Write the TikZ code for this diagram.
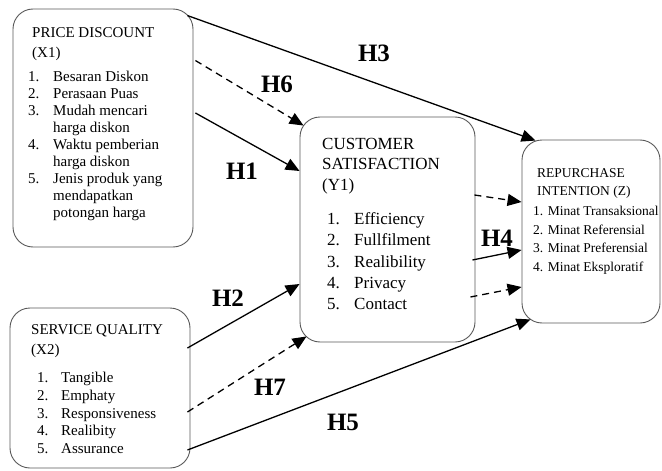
\documentclass[tikz,border=0pt]{standalone}
\usepackage{fontspec}
\setmainfont{Liberation Serif}
\usetikzlibrary{arrows.meta,calc}
\begin{document}
\begin{tikzpicture}[x=1pt,y=-1pt,
  box/.style={draw=black!65, line width=0.9pt, rounded corners=20pt, inner sep=0pt},
  txt/.style={anchor=base west, inner sep=0pt, align=left},
  conn/.style={line width=1.3pt, -{Triangle[length=14pt,width=12pt]}},
  dconn/.style={conn, dash pattern=on 7pt off 5pt},
  hlab/.style={font=\fontsize{25}{25}\bfseries\selectfont, inner sep=0pt}]
\useasboundingbox (0,0) rectangle (662,471);
% boxes
\node[box, minimum width=180pt, minimum height=238pt] (x1) at (103,128) {};
\node[box, minimum width=180pt, minimum height=160pt] (x2) at (100,388) {};
\node[box, minimum width=175pt, minimum height=225pt] (y1) at (387.5,229.5) {};
\node[box, minimum width=138pt, minimum height=183pt] (z) at (591,231.5) {};
% texts
\node[txt, font=\fontsize{15}{17.1}\selectfont] (x1t) at (28,37) {%
\begin{tabular}[t]{@{}p{25pt}@{}l@{}}
\multicolumn{2}{@{}l@{}}{\hspace{4pt}PRICE DISCOUNT}\\[3pt]
\multicolumn{2}{@{}l@{}}{\hspace{4pt}(X1)}\\[7pt]
1. & Besaran Diskon\\
2. & Perasaan Puas\\
3. & Mudah mencari\\
   & harga diskon\\
4. & Waktu pemberian\\
   & harga diskon\\
5. & Jenis produk yang\\
   & mendapatkan\\
   & potongan harga
\end{tabular}};
\node[txt, font=\fontsize{15}{17.75}\selectfont] (x2t) at (37,334) {%
\begin{tabular}[t]{@{}p{24pt}@{}l@{}}
\multicolumn{2}{@{}l@{}}{\hspace{-6pt}SERVICE QUALITY}\\[3pt]
\multicolumn{2}{@{}l@{}}{\hspace{-6pt}(X2)}\\[10pt]
1. & Tangible\\
2. & Emphaty\\
3. & Responsiveness\\
4. & Realibity\\
5. & Assurance
\end{tabular}};
\node[txt, font=\fontsize{17}{21.5}\selectfont] (y1t) at (327,149) {%
\begin{tabular}[t]{@{}p{27pt}@{}l@{}}
\multicolumn{2}{@{}l@{}}{\hspace{-5pt}CUSTOMER}\\[-1pt]
\multicolumn{2}{@{}l@{}}{\hspace{-5pt}SATISFACTION}\\[-1pt]
\multicolumn{2}{@{}l@{}}{\hspace{-5pt}(Y1)}\\[12.5pt]
1. & Efficiency\\
2. & Fullfilment\\
3. & Realibility\\
4. & Privacy\\
5. & Contact
\end{tabular}};
\node[txt, font=\fontsize{13.5}{18.7}\selectfont] (zt) at (533,177) {%
\begin{tabular}[t]{@{}l@{}}
\hspace{4pt}REPURCHASE\\
\hspace{4pt}INTENTION (Z)\\[1pt]
1. Minat Transaksional\\
2. Minat Referensial\\
3. Minat Preferensial\\
4. Minat Eksploratif
\end{tabular}};
% connectors
\draw[conn] ($(x1.north east)+(-6,7)$) -- ($(z.north west)+(14,1)$);
\draw[dconn] ($(x1.north east)+(2,52)$) -- ($(y1.north west)+(4,9)$);
\draw[conn] ($(x1.east)+(2,-15)$) -- ($(y1.west)+(0,-58.5)$);
\draw[conn] ($(x2.east)+(-3,-40)$) -- ($(y1.west)+(0,54.5)$);
\draw[dconn] ($(x2.east)+(-3,24)$) -- ($(y1.south west)+(7,-6)$);
\draw[conn] ($(x2.east)+(-3,62)$) -- ($(z.south west)+(9,-4)$);
\draw[dconn] ($(y1.east)+(-1,-34.5)$) -- ($(z.west)+(0,-29.5)$);
\draw[conn] ($(y1.east)+(-3,30.5)$) -- ($(z.west)+(0,18.5)$);
\draw[dconn] ($(y1.east)+(-5,67.5)$) -- ($(z.west)+(0,55.5)$);
% labels
\node[hlab] (h3) at (374,53) {H3};
\node[hlab] (h6) at (277,84) {H6};
\node[hlab] (h1) at (242,171) {H1};
\node[hlab] (h4) at (497,238) {H4};
\node[hlab] (h2) at (228,298) {H2};
\node[hlab] (h7) at (270,387) {H7};
\node[hlab] (h5) at (343,422) {H5};
\end{tikzpicture}
\end{document}
